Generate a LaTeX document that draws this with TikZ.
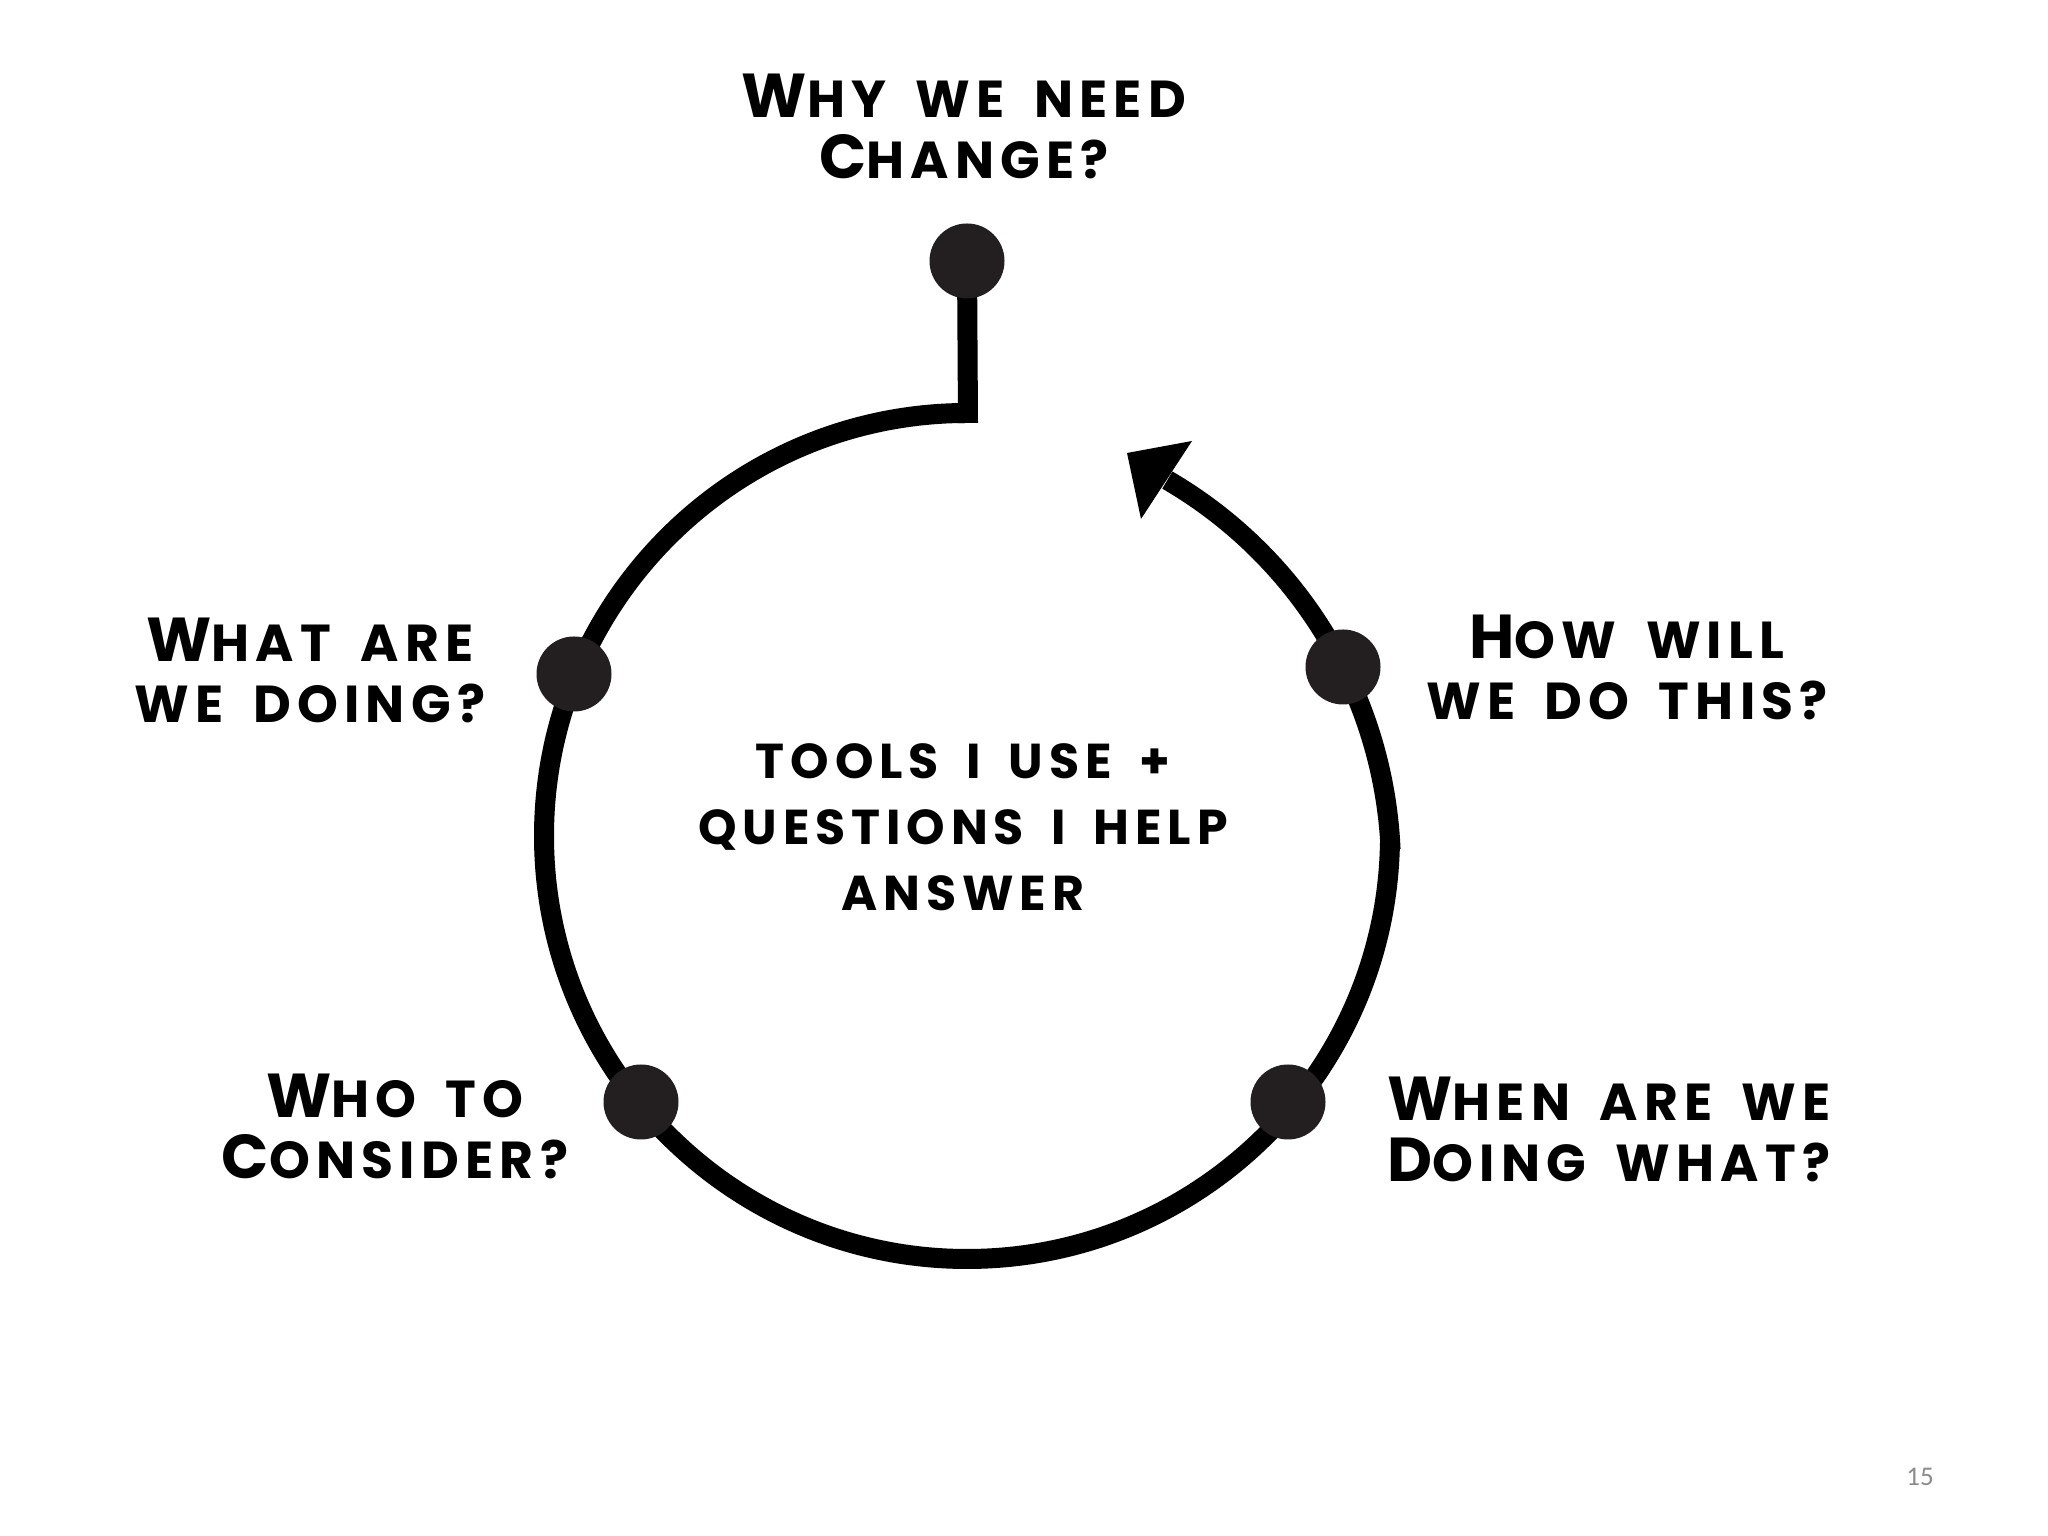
\documentclass[tikz,border=0pt]{standalone}
\usepackage{fontspec}
\newfontfamily\hand[LetterSpace=12,WordSpace=1.7]{Poppins}
\newfontfamily\pagefont{Carlito}
\definecolor{dotgray}{HTML}{231F20}
\definecolor{pagegray}{HTML}{8C8C8C}
\newcommand\Bg[1]{{\fontsize{62}{60}\selectfont #1}}
\pgfdeclarelayer{bg}
\pgfsetlayers{bg,main}
\tikzset{
  ring/.style={line width=20pt, draw=black},
  dotnode/.style={circle, fill=dotgray, minimum size=75pt, inner sep=0pt},
  qlabel/.style={font=\hand\bfseries\fontsize{52}{61}\selectfont, align=center, inner sep=0pt},
  ctext/.style={font=\hand\bfseries\fontsize{49}{66}\selectfont, align=center, inner sep=0pt},
  pagenum/.style={font=\pagefont\fontsize{27}{30}\selectfont, text=pagegray, inner sep=0pt}
}
\begin{document}
\begin{tikzpicture}[x=1pt,y=1pt]
\path[use as bounding box] (0,0) rectangle (2048,1536);
\coordinate (C) at (967,700);
\coordinate (C2) at (941,667);
\coordinate (stembase) at (968,1113);
% dots
\node[dotnode] (why) at (967,1275) {};
\node[dotnode] (what) at (574,862) {};
\node[dotnode] (who) at (641,434) {};
\node[dotnode] (when) at (1288,434) {};
\node[dotnode] (how) at (1343,869) {};
\begin{pgfonlayer}{bg}
  \fill[white] (0,0) rectangle (2048,1536);
  \draw[ring] (C) ++(90:423) arc[start angle=90, end angle=359, radius=423];
  \draw[ring] (C2) ++(2.5:450) arc[start angle=2.5, end angle=59.8, radius=450];
  \fill (1192,1095) -- (1127,1083) -- (1141,1017) -- cycle;
  \draw[ring] (why.center) -- (stembase);
\end{pgfonlayer}
% labels
\node[qlabel] (tWhy) at (964,1410) {\Bg{W}HY WE NEED\\\Bg{C}HANGE?};
\node[qlabel] (tWhat) at (310,866) {\Bg{W}HAT ARE\\WE DOING?};
\node[qlabel] (tHow) at (1627,869) {\Bg{H}OW WILL\\WE DO THIS?};
\node[qlabel] (tWho) at (395,410) {\Bg{W}HO TO\\\Bg{C}ONSIDER?};
\node[qlabel] (tWhen) at (1609,407) {\Bg{W}HEN ARE WE\\\Bg{D}OING WHAT?};
\node[ctext] (tCenter) at (963,709) {TOOLS I USE +\\QUESTIONS I HELP\\ANSWER};
\node[pagenum] (page) at (1920,59) {15};
\end{tikzpicture}
\end{document}
